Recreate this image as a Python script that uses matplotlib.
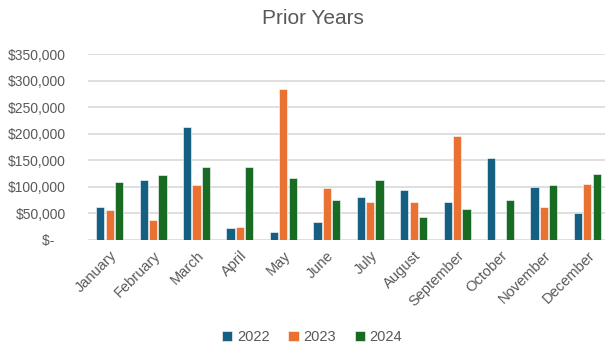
import matplotlib
matplotlib.use('Agg')
import matplotlib.pyplot as plt
import matplotlib.ticker as mtick
import numpy as np

plt.rcParams['font.family'] = ['Liberation Sans', 'DejaVu Sans']

months = ['January', 'February', 'March', 'April', 'May', 'June', 'July',
          'August', 'September', 'October', 'November', 'December']
years = ['2022', '2023', '2024']
sales_2022 = [63000, 112000, 212000, 23000, 15000, 33000, 81000, 95000, 72000, 154000, 100000, 50000]
sales_2023 = [57000, 38000, 104000, 25000, 285000, 97000, 71000, 72000, 195000, 0, 63000, 105000]
sales_2024 = [109000, 122000, 137000, 137000, 116000, 76000, 113000, 44000, 59000, 76000, 104000, 125000]
colors = ['#156082', '#E97132', '#196B24']

text_col = '#595959'

def money(v, pos):
    if v == 0:
        return '$-   '
    return '${:,.0f}'.format(v)

fig = plt.figure(figsize=(6.05, 3.51), dpi=100)
ax = fig.add_axes([88 / 605, 1 - 240 / 351, 521 / 605, 186 / 351])

x = np.arange(len(months))
width = 0.19
offsets = [-0.215, 0, 0.215]
for series, off, col, lab in zip([sales_2022, sales_2023, sales_2024], offsets, colors, years):
    ax.bar(x + off, series, width, color=col, edgecolor='white', linewidth=0.4, label=lab, zorder=3)

ax.set_xlim(-0.5, 11.5)
ax.set_ylim(0, 350000)
ax.yaxis.set_major_locator(mtick.MultipleLocator(50000))
ax.yaxis.set_major_formatter(mtick.FuncFormatter(money))
ax.grid(axis='y', color='#d9d9d9', linewidth=1.2, zorder=0)
for s in ax.spines.values():
    s.set_visible(False)
ax.tick_params(axis='both', length=0, labelsize=10, labelcolor=text_col)
ax.tick_params(axis='y', pad=16)
ax.tick_params(axis='x', pad=6, labelsize=10.5)
ax.set_xticks(x)
ax.set_xticklabels(months, rotation=45, ha='right', rotation_mode='anchor')

fig.text(313 / 605, 1 - 18 / 351, 'Prior Years', ha='center', va='center', fontsize=15, color=text_col)
fig.legend(loc='center', bbox_to_anchor=(312 / 605, 1 - 337 / 351), ncol=3, frameon=False,
           fontsize=10.5, labelcolor=text_col, handlelength=0.7, handleheight=0.7,
           handletextpad=0.3, columnspacing=1.3)

plt.savefig('out.png', dpi=100)
